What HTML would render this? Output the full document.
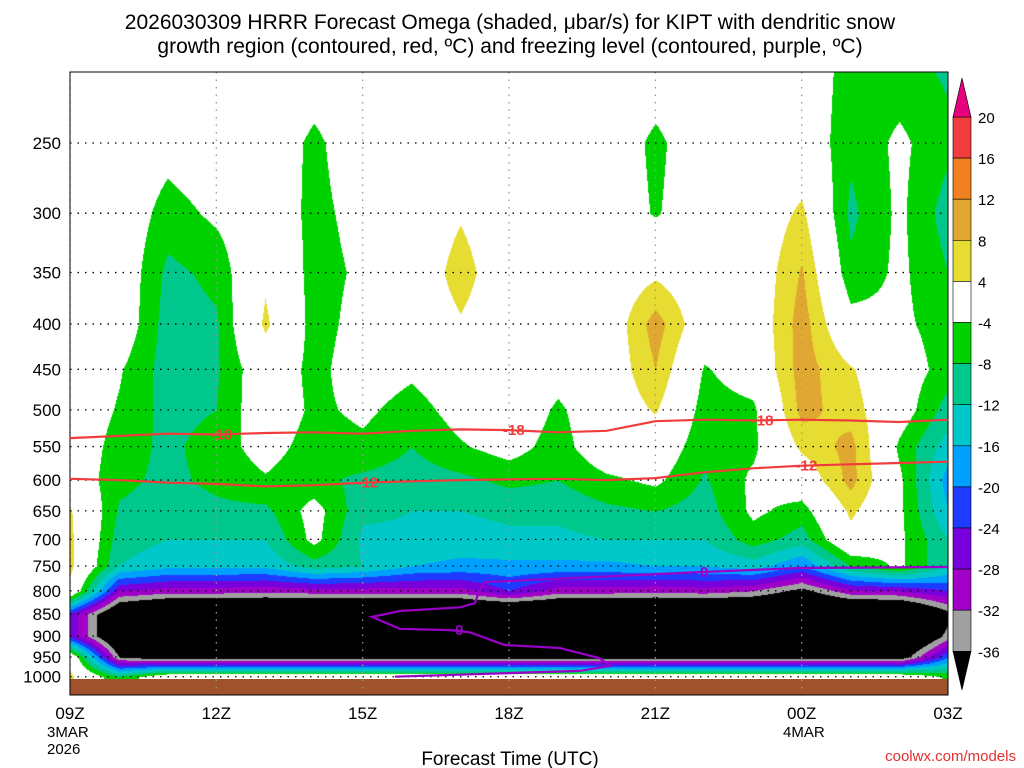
<!DOCTYPE html>
<html><head><meta charset="utf-8"><style>
html,body{margin:0;padding:0;background:#fff;width:1024px;height:768px;overflow:hidden}
#wrap{position:relative;width:1024px;height:768px;font-family:"Liberation Sans",sans-serif}
#plot{position:absolute;left:70px;top:72px}
svg{position:absolute;left:0;top:0}
text{font-family:"Liberation Sans",sans-serif}
</style></head><body>
<div id="wrap">
<canvas id="plot" width="878" height="623"></canvas>
<svg id="ov" width="1024" height="768"></svg>
</div>
<script>
const levels=[200,250,300,350,400,450,500,550,600,650,700,750,800,850,900,950,1000];
const p200=[0,0,0,0,0,0,0,0,0,0,0,0,0,0,0,0,-6,-7,-9];
const p250=[0,0,-2,0,0,-5.2,0,0,0,0,0,0,-5.2,0,0,0,-7,-3,-7];
const p300=[0,0,-6,-3,0,-5.5,-2,0,3.5,0,0,0,-4.5,0,0,5,-9,-3,-10];
const p350=[0,0,-9,-7,3,-6,-3,0,6,0,0,0,3,0,0,8.5,-7,-3,-8];
const p400=[0,0,-10,-8.5,5,-6,-2,0,3.5,0,0,0,10,0,0,10,-2,-3,-6];
const p450=[0,-3.5,-10,-8.5,0,-5.5,-1,-3,0,0,-2,0,8,-4.5,-1,10,4.5,-1,-6];
const p500=[0,-4.5,-9.5,-8,0,-5,-3,-6,-2,0,-4.8,0,4.5,-6,-5,9.5,6,-1,-10];
const p550=[0,-6,-9,-6,-2,-6,-5,-8,-4.5,-2,-6,0,0,-7,-5,5,9.5,-5,-14];
const p600=[0,-7,-9,-7,-4.5,-7,-9,-10,-9,-7,-8,-5,-3,-8.5,-3,0,9.5,-3,-18];
const p650=[4.5,-8.5,-10,-9,-9,-2,-11,-12,-12,-11,-11,-9,-8,-10,-3,-6,5,-3,-16];
const p700=[5,-10,-12,-12,-12,-2.5,-13,-13,-14,-13,-13,-12,-12,-12,-6,-10,2,-3,-12];
const p750=[5.2,-12,-15,-15,-15,-10,-12,-16,-17,-17,-17,-17,-16,-16,-14,-20,-8,-3,-12];
const p800=[2,-28,-30,-30,-31,-30,-30,-30,-30,-24,-30,-30,-31,-30,-32,-38,-29,-28,-24];
const p850=[-25,-45,-50,-50,-50,-50,-50,-50,-50,-50,-50,-50,-50,-50,-50,-50,-50,-50,-38];
const p900=[-25,-45,-50,-50,-50,-50,-50,-50,-50,-50,-50,-50,-50,-50,-50,-50,-50,-50,-34];
const p950=[2,-36,-40,-40,-40,-40,-40,-40,-40,-40,-40,-40,-40,-40,-40,-40,-40,-40,-20];
const p1000=[5,-8,2,2,2,2,2,2,2,2,2,2,2,2,2,2,2,2,-5];
const omegaGrid=[p200,p250,p300,p350,p400,p450,p500,p550,p600,p650,p700,p750,p800,p850,p900,p950,p1000];
const bandBounds=[-36,-32,-28,-24,-20,-16,-12,-8,-4,4,8,12,16,20];
const bandColors=["#000000","#a0a0a0","#a000c8","#7800dc","#1e3cff","#00a0ff","#00c8c8","#00c88c","#00d200","#ffffff","#e6dc32","#e0a830","#f08020","#f03c3c","#e6007e"];
const cbLabels=[20,16,12,8,4,-4,-8,-12,-16,-20,-24,-28,-32,-36];
const timeTicks=["09Z","12Z","15Z","18Z","21Z","00Z","03Z"];
const timeTickHours=[0,3,6,9,12,15,18];
const pressureTicks=[250,300,350,400,450,500,550,600,650,700,750,800,850,900,950,1000];
const tempM18=[538,535,532,533,531,530,532,528,526,527,530,528,515,513,514,513,514,516,513];
const tempM12=[598,600,604,606,610,608,604,602,600,599,598,600,597,588,582,578,576,574,572];
const frzHours=[18,14.96,12.91,8.5,8.4,8.3,8.0,6.76,6.19,6.76,7.79,8.2,8.91,10.04,10.86,11.07,10.45,6.66];
const frzPres=[752,754,762,782,798,826,835,843,856,883,886,891,921,928,953,972,985,1000];

const X0=70,W=878,NH=18;
function xs(h){return X0+h*W/NH;}
function ys(p){return 143+385*Math.log(p/250);}
function hex(c){return [parseInt(c.substr(1,2),16),parseInt(c.substr(3,2),16),parseInt(c.substr(5,2),16)];}
const rgb=bandColors.map(hex);
function band(v){let i=0;while(i<bandBounds.length&&v>=bandBounds[i])i++;return i;}

const cv=document.getElementById('plot');const ctx=cv.getContext('2d');
const img=ctx.createImageData(878,623);
const lnL=levels.map(Math.log);
for(let py=0;py<623;py++){
  const sy=py+72;
  const p=250*Math.exp((sy-143)/385);
  const lp=Math.log(Math.min(Math.max(p,levels[0]),1000));
  let r=0;while(r<levels.length-2&&lp>lnL[r+1])r++;
  const fy=Math.min(1,Math.max(0,(lp-lnL[r])/(lnL[r+1]-lnL[r])));
  for(let px=0;px<878;px++){
    const h=px/W*NH;let c=Math.min(NH-1,Math.floor(h));const fx=h-c;
    const a=omegaGrid[r][c]*(1-fx)+omegaGrid[r][c+1]*fx;
    const b=omegaGrid[r+1][c]*(1-fx)+omegaGrid[r+1][c+1]*fx;
    const v=a*(1-fy)+b*fy;
    const col=rgb[band(v)];const k=(py*878+px)*4;
    img.data[k]=col[0];img.data[k+1]=col[1];img.data[k+2]=col[2];img.data[k+3]=255;
  }
}
ctx.putImageData(img,0,0);

const NS="http://www.w3.org/2000/svg";const svg=document.getElementById('ov');
function mk(tag,attrs,parent){const e=document.createElementNS(NS,tag);for(const k in attrs)e.setAttribute(k,attrs[k]);(parent||svg).appendChild(e);return e;}
function txt(s,attrs){const e=mk('text',attrs);e.textContent=s;return e;}

let g=mk('rect',{x:70,y:679,width:878,height:16,fill:"#a0522d"});



pressureTicks.forEach(p=>{
  const l=mk('line',{x1:70,x2:948,y1:ys(p),y2:ys(p),stroke:"#000","stroke-width":1.3,"stroke-dasharray":"1.5 6"});
  
  
  const t=txt(String(p),{x:61,y:ys(p)+6,"text-anchor":"end","font-size":17,fill:"#000"});
  
  
});
timeTickHours.forEach((h,i)=>{
  const l=mk('line',{x1:xs(h),x2:xs(h),y1:72,y2:695,stroke:"#999","stroke-width":1.3,"stroke-dasharray":"1.5 6"});
  
  
  const t=txt(timeTicks[i],{x:xs(h),y:719,"text-anchor":"middle","font-size":17,fill:"#000"});
  
  
});
let fr=mk('rect',{x:70,y:72,width:878,height:623,fill:"none",stroke:"#000","stroke-width":1});



function poly(hs,ps,color,name){
  const d=hs.map((h,i)=>(i?'L':'M')+xs(h).toFixed(1)+' '+ys(ps[i]).toFixed(1)).join(' ');
  const e=mk('path',{d:d,fill:"none",stroke:color,"stroke-width":2.2});
  
  
}
const hrs=tempM18.map((_,i)=>i);
poly(hrs,tempM18,"#f03c3c","contour-minus18");
poly(hrs,tempM12,"#f03c3c","contour-minus12");
poly(frzHours,frzPres,"#9a00c8","freezing-level-contour");
function lab(s,h,p,color,name){
  const t=txt(s,{x:xs(h),y:ys(p)+5,"text-anchor":"middle","font-size":15,"font-weight":"bold",fill:color});
  
  
}
lab("-18",3.1,tempM18[3],"#f03c3c","label-minus18-a");
lab("-18",9.1,tempM18[9],"#f03c3c","label-minus18-b");
lab("-18",14.2,tempM18[14],"#f03c3c","label-minus18-c");
lab("-12",6.1,tempM12[6],"#f03c3c","label-minus12-a");
lab("-12",15.1,tempM12[15],"#f03c3c","label-minus12-b");
lab("0",7.98,886,"#9a00c8","label-zero-a");
lab("0",13.0,762,"#9a00c8","label-zero-b");

const cbX=953,cbW=18,cbTop=117,cbStep=41.1;
for(let i=0;i<13;i++){
  const y=cbTop+i*cbStep;
  const r=mk('rect',{x:cbX,y:y,width:cbW,height:cbStep,fill:bandColors[13-i],stroke:"#000","stroke-width":0.6});
  
  
}
let tt=mk('polygon',{points:`${cbX},${cbTop} ${cbX+cbW},${cbTop} ${cbX+cbW/2},78`,fill:bandColors[14],stroke:"#000","stroke-width":0.6});


const bt=cbTop+13*cbStep;
let tb=mk('polygon',{points:`${cbX},${bt} ${cbX+cbW},${bt} ${cbX+cbW/2},690`,fill:bandColors[0],stroke:"#000","stroke-width":0.6});


cbLabels.forEach((v,i)=>{
  const t=txt(String(v),{x:978,y:cbTop+i*cbStep+6,"font-size":15,fill:"#000"});
  
  
});

let t1=txt("2026030309 HRRR Forecast Omega (shaded, \u03bcbar/s) for KIPT with dendritic snow",{x:510,y:29,"text-anchor":"middle","font-size":21,fill:"#000"});

let t2=txt("growth region (contoured, red, \u00baC) and freezing level (contoured, purple, \u00baC)",{x:510,y:53,"text-anchor":"middle","font-size":21,fill:"#000"});

let t3=txt("3MAR",{x:47,y:737,"font-size":15,fill:"#000"});
let t4=txt("2026",{x:47,y:754,"font-size":15,fill:"#000"});
let t5=txt("4MAR",{x:783,y:737,"font-size":15,fill:"#000"});
let t6=txt("Forecast Time (UTC)",{x:510,y:765,"text-anchor":"middle","font-size":19,fill:"#000"});
let t7=txt("coolwx.com/models",{x:1016,y:761,"text-anchor":"end","font-size":15,fill:"#e03030","font-family":"Liberation Mono"});
</script>
</body></html>
